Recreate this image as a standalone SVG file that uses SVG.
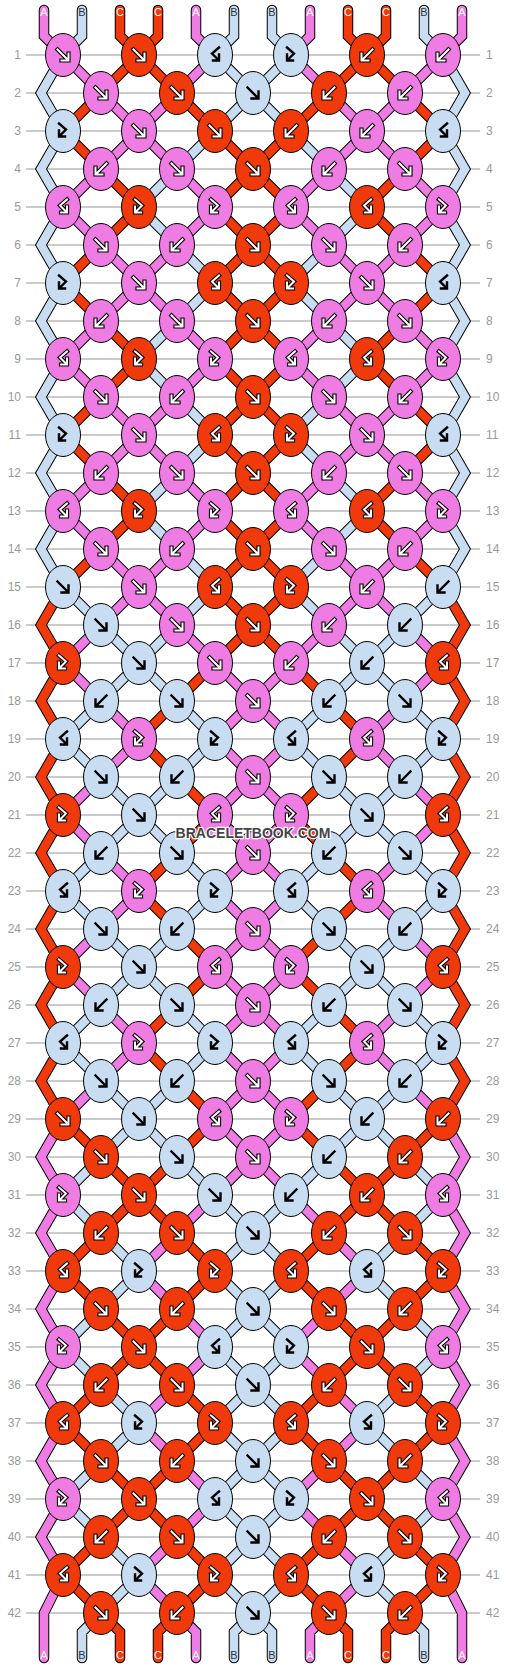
<svg xmlns="http://www.w3.org/2000/svg" xmlns:xlink="http://www.w3.org/1999/xlink" width="506" height="1668" viewBox="0 0 506 1668">
<style>
.lbl{font-family:"Liberation Sans",Arial,sans-serif;font-size:11px;text-anchor:middle}
.num{font-family:"Liberation Sans",Arial,sans-serif;font-size:12px;fill:#999}
.wo{fill:none;stroke:#000;stroke-width:4.2;stroke-linecap:square;stroke-linejoin:miter}
.wi{fill:none;stroke:#fff;stroke-width:2;stroke-linecap:square;stroke-linejoin:miter}
.bk{fill:none;stroke:#000;stroke-width:2.4;stroke-linecap:square;stroke-linejoin:miter}
.wm{font-family:"Liberation Sans",Arial,sans-serif;font-size:14px;font-weight:bold;text-anchor:middle;fill:#444;stroke:#fff;stroke-width:2.5;paint-order:stroke;stroke-linejoin:round}
</style>
<defs>
<ellipse id="e" rx="17.5" ry="21.5" stroke="#000" stroke-width="1"/>
<path id="af" d="M-5.5,-5.5L4.5,4.5M5.5,-1.5V5.5H-1.5"/>
<path id="ab" d="M5.5,-5.5L-4.5,4.5M-5.5,-1.5V5.5H1.5"/>
<path id="aF" d="M-4,-7.5L3,-1.5L-3,4.5M-4,-0.5V5.5H2"/>
<path id="aK" d="M4,-7.5L-3,-1.5L3,4.5M4,-0.5V5.5H-2"/>
<g id="Pf"><use href="#e" fill="#ee7ce2"/><use href="#af" class="wo"/><use href="#af" class="wi"/></g>
<g id="Pb"><use href="#e" fill="#ee7ce2"/><use href="#ab" class="wo"/><use href="#ab" class="wi"/></g>
<g id="PF"><use href="#e" fill="#ee7ce2"/><use href="#aF" class="wo"/><use href="#aF" class="wi"/></g>
<g id="PK"><use href="#e" fill="#ee7ce2"/><use href="#aK" class="wo"/><use href="#aK" class="wi"/></g>
<g id="Rf"><use href="#e" fill="#f03a0b"/><use href="#af" class="wo"/><use href="#af" class="wi"/></g>
<g id="Rb"><use href="#e" fill="#f03a0b"/><use href="#ab" class="wo"/><use href="#ab" class="wi"/></g>
<g id="RF"><use href="#e" fill="#f03a0b"/><use href="#aF" class="wo"/><use href="#aF" class="wi"/></g>
<g id="RK"><use href="#e" fill="#f03a0b"/><use href="#aK" class="wo"/><use href="#aK" class="wi"/></g>
<g id="Bf"><use href="#e" fill="#c9ddf2"/><use href="#af" class="bk"/></g>
<g id="Bb"><use href="#e" fill="#c9ddf2"/><use href="#ab" class="bk"/></g>
<g id="BF"><use href="#e" fill="#c9ddf2"/><use href="#aF" class="bk"/></g>
<g id="BK"><use href="#e" fill="#c9ddf2"/><use href="#aK" class="bk"/></g>
<path id="a1P" d="M139,131l-38,38M139,131l38,38M367,131l-38,38M367,131l38,38M101,169l-38,38M177,169l38,38M329,169l-38,38M405,169l38,38M63,207l38,38M215,207l-38,38M291,207l38,38M443,207l-38,38"/>
<path id="a2P" d="M101,245l38,38M177,245l-38,38M329,245l38,38M405,245l-38,38"/>
<path id="a1R" d="M63,131l38,38M443,131l-38,38M215,131l38,38M291,131l-38,38M101,169l38,38M253,169l-38,38M253,169l38,38M405,169l-38,38M139,207l-38,38M215,207l38,38M291,207l-38,38M367,207l38,38"/>
<path id="a2R" d="M101,245l-38,38M253,245l-38,38M253,245l38,38M405,245l38,38"/>
<path id="a1B" d="M215,131l-38,38M291,131l38,38M177,169l-38,38M329,169l38,38M139,207l38,38M367,207l-38,38M63,131L41,169L63,207M443,131L465,169L443,207"/>
<path id="a2B" d="M177,245l38,38M329,245l-38,38M63,207L41,245L63,283M443,207L465,245L443,283"/>
<g id="gP">
<path d="M44,10V36L63,55M196,10V36L215,55M310,10V36L291,55M462,10V36L443,55M63,55l38,38M215,55l-38,38M291,55l38,38M443,55l-38,38M101,93l38,38M177,93l-38,38M329,93l38,38M405,93l-38,38M139,587l-38,38M139,587l38,38M367,587l-38,38M367,587l38,38M101,625l-38,38M177,625l38,38M329,625l-38,38M405,625l38,38M215,1119l38,38M291,1119l-38,38M63,1119L41,1157L63,1195M443,1119L465,1157L443,1195M253,1157l-38,38M253,1157l38,38M63,1575L44,1613V1658M443,1575L462,1613V1658M177,1613L196,1632V1658M329,1613L310,1632V1658"/>
<use href="#a1P"/><use href="#a2P"/><use href="#a1P" y="152"/><use href="#a2P" y="152"/><use href="#a1P" y="304"/><use href="#a2P" y="304"/>
<use href="#a1R" y="532"/><use href="#a2R" y="532"/><use href="#a1R" y="684"/><use href="#a2R" y="684"/><use href="#a1R" y="836"/><use href="#a2R" y="836"/>
<use href="#a1B" y="1064"/><use href="#a2B" y="1064"/><use href="#a1B" y="1216"/><use href="#a2B" y="1216"/><use href="#a1B" y="1368"/>
</g>
<g id="gR">
<path d="M120,10V36L139,55M158,10V36L139,55M348,10V36L367,55M386,10V36L367,55M139,55l-38,38M139,55l38,38M367,55l-38,38M367,55l38,38M101,93l-38,38M177,93l38,38M329,93l-38,38M405,93l38,38M215,587l38,38M291,587l-38,38M63,587L41,625L63,663M443,587L465,625L443,663M253,625l-38,38M253,625l38,38M63,1119l38,38M215,1119l-38,38M291,1119l38,38M443,1119l-38,38M101,1157l38,38M177,1157l-38,38M329,1157l38,38M405,1157l-38,38M101,1613L120,1632V1658M177,1613L158,1632V1658M329,1613L348,1632V1658M405,1613L386,1632V1658"/>
<use href="#a1R"/><use href="#a2R"/><use href="#a1R" y="152"/><use href="#a2R" y="152"/><use href="#a1R" y="304"/><use href="#a2R" y="304"/>
<use href="#a1B" y="532"/><use href="#a2B" y="532"/><use href="#a1B" y="684"/><use href="#a2B" y="684"/><use href="#a1B" y="836"/><use href="#a2B" y="836"/>
<use href="#a1P" y="1064"/><use href="#a2P" y="1064"/><use href="#a1P" y="1216"/><use href="#a2P" y="1216"/><use href="#a1P" y="1368"/>
</g>
<g id="gB">
<path d="M82,10V36L63,55M234,10V36L215,55M272,10V36L291,55M424,10V36L443,55M215,55l38,38M291,55l-38,38M63,55L41,93L63,131M443,55L465,93L443,131M253,93l-38,38M253,93l38,38M63,587l38,38M215,587l-38,38M291,587l38,38M443,587l-38,38M101,625l38,38M177,625l-38,38M329,625l38,38M405,625l-38,38M139,1119l-38,38M139,1119l38,38M367,1119l-38,38M367,1119l38,38M101,1157l-38,38M177,1157l38,38M329,1157l-38,38M405,1157l38,38M101,1613L82,1632V1658M253,1613L234,1632V1658M253,1613L272,1632V1658M405,1613L424,1632V1658"/>
<use href="#a1B"/><use href="#a2B"/><use href="#a1B" y="152"/><use href="#a2B" y="152"/><use href="#a1B" y="304"/><use href="#a2B" y="304"/>
<use href="#a1P" y="532"/><use href="#a2P" y="532"/><use href="#a1P" y="684"/><use href="#a2P" y="684"/><use href="#a1P" y="836"/><use href="#a2P" y="836"/>
<use href="#a1R" y="1064"/><use href="#a2R" y="1064"/><use href="#a1R" y="1216"/><use href="#a2R" y="1216"/><use href="#a1R" y="1368"/>
</g>
</defs>
<rect width="506" height="1668" fill="#fff"/>
<g id="rowlines" stroke="#bbb" stroke-width="1.5" fill="none">
<path d="M26,55H480M26,93H480M26,131H480M26,169H480M26,207H480M26,245H480M26,283H480M26,321H480M26,359H480M26,397H480M26,435H480M26,473H480M26,511H480M26,549H480M26,587H480M26,625H480M26,663H480M26,701H480M26,739H480M26,777H480M26,815H480M26,853H480M26,891H480M26,929H480M26,967H480M26,1005H480M26,1043H480M26,1081H480M26,1119H480M26,1157H480M26,1195H480M26,1233H480M26,1271H480M26,1309H480M26,1347H480M26,1385H480M26,1423H480M26,1461H480M26,1499H480M26,1537H480M26,1575H480M26,1613H480"/>
</g>
<g id="rownumbers" class="num">
<g text-anchor="end">
<text x="21" y="59">1</text><text x="21" y="97">2</text><text x="21" y="135">3</text><text x="21" y="173">4</text><text x="21" y="211">5</text><text x="21" y="249">6</text><text x="21" y="287">7</text><text x="21" y="325">8</text><text x="21" y="363">9</text><text x="21" y="401">10</text><text x="21" y="439">11</text><text x="21" y="477">12</text><text x="21" y="515">13</text><text x="21" y="553">14</text><text x="21" y="591">15</text><text x="21" y="629">16</text><text x="21" y="667">17</text><text x="21" y="705">18</text><text x="21" y="743">19</text><text x="21" y="781">20</text><text x="21" y="819">21</text><text x="21" y="857">22</text><text x="21" y="895">23</text><text x="21" y="933">24</text><text x="21" y="971">25</text><text x="21" y="1009">26</text><text x="21" y="1047">27</text><text x="21" y="1085">28</text><text x="21" y="1123">29</text><text x="21" y="1161">30</text><text x="21" y="1199">31</text><text x="21" y="1237">32</text><text x="21" y="1275">33</text><text x="21" y="1313">34</text><text x="21" y="1351">35</text><text x="21" y="1389">36</text><text x="21" y="1427">37</text><text x="21" y="1465">38</text><text x="21" y="1503">39</text><text x="21" y="1541">40</text><text x="21" y="1579">41</text><text x="21" y="1617">42</text>
</g>
<g text-anchor="start">
<text x="486" y="59">1</text><text x="486" y="97">2</text><text x="486" y="135">3</text><text x="486" y="173">4</text><text x="486" y="211">5</text><text x="486" y="249">6</text><text x="486" y="287">7</text><text x="486" y="325">8</text><text x="486" y="363">9</text><text x="486" y="401">10</text><text x="486" y="439">11</text><text x="486" y="477">12</text><text x="486" y="515">13</text><text x="486" y="553">14</text><text x="486" y="591">15</text><text x="486" y="629">16</text><text x="486" y="667">17</text><text x="486" y="705">18</text><text x="486" y="743">19</text><text x="486" y="781">20</text><text x="486" y="819">21</text><text x="486" y="857">22</text><text x="486" y="895">23</text><text x="486" y="933">24</text><text x="486" y="971">25</text><text x="486" y="1009">26</text><text x="486" y="1047">27</text><text x="486" y="1085">28</text><text x="486" y="1123">29</text><text x="486" y="1161">30</text><text x="486" y="1199">31</text><text x="486" y="1237">32</text><text x="486" y="1275">33</text><text x="486" y="1313">34</text><text x="486" y="1351">35</text><text x="486" y="1389">36</text><text x="486" y="1427">37</text><text x="486" y="1465">38</text><text x="486" y="1503">39</text><text x="486" y="1541">40</text><text x="486" y="1579">41</text><text x="486" y="1617">42</text>
</g>
</g>
<g id="connectors" fill="none" stroke-linecap="round" stroke-linejoin="miter">
<use href="#gP" stroke="#000" stroke-width="10.5"/>
<use href="#gR" stroke="#000" stroke-width="10.5"/>
<use href="#gB" stroke="#000" stroke-width="10.5"/>
<use href="#gP" stroke="#ee7ce2" stroke-width="8.5"/>
<use href="#gR" stroke="#f03a0b" stroke-width="8.5"/>
<use href="#gB" stroke="#c9ddf2" stroke-width="8.5"/>
</g>
<g id="stringlabels" class="lbl">
<text x="44" y="16" fill="#fff">A</text><text x="82" y="16" fill="#333">B</text><text x="120" y="16" fill="#fff">C</text><text x="158" y="16" fill="#fff">C</text><text x="196" y="16" fill="#fff">A</text><text x="234" y="16" fill="#333">B</text><text x="272" y="16" fill="#333">B</text><text x="310" y="16" fill="#fff">A</text><text x="348" y="16" fill="#fff">C</text><text x="386" y="16" fill="#fff">C</text><text x="424" y="16" fill="#333">B</text><text x="462" y="16" fill="#fff">A</text>
<text x="44" y="1659" fill="#fff">A</text><text x="82" y="1659" fill="#333">B</text><text x="120" y="1659" fill="#fff">C</text><text x="158" y="1659" fill="#fff">C</text><text x="196" y="1659" fill="#fff">A</text><text x="234" y="1659" fill="#333">B</text><text x="272" y="1659" fill="#333">B</text><text x="310" y="1659" fill="#fff">A</text><text x="348" y="1659" fill="#fff">C</text><text x="386" y="1659" fill="#fff">C</text><text x="424" y="1659" fill="#333">B</text><text x="462" y="1659" fill="#fff">A</text>
</g>
<g id="knots">
<g id="n1-1"><use href="#Pf" x="63" y="55"/></g><g id="n1-2"><use href="#Rf" x="139" y="55"/></g><g id="n1-3"><use href="#BK" x="215" y="55"/></g><g id="n1-4"><use href="#BF" x="291" y="55"/></g><g id="n1-5"><use href="#Rb" x="367" y="55"/></g><g id="n1-6"><use href="#Pb" x="443" y="55"/></g>
<g id="n2-1"><use href="#Pf" x="101" y="93"/></g><g id="n2-2"><use href="#Rf" x="177" y="93"/></g><g id="n2-3"><use href="#Bf" x="253" y="93"/></g><g id="n2-4"><use href="#Rb" x="329" y="93"/></g><g id="n2-5"><use href="#Pb" x="405" y="93"/></g>
<g id="n3-1"><use href="#BF" x="63" y="131"/></g><g id="n3-2"><use href="#Pf" x="139" y="131"/></g><g id="n3-3"><use href="#Rf" x="215" y="131"/></g><g id="n3-4"><use href="#Rb" x="291" y="131"/></g><g id="n3-5"><use href="#Pb" x="367" y="131"/></g><g id="n3-6"><use href="#BK" x="443" y="131"/></g>
<g id="n4-1"><use href="#Pb" x="101" y="169"/></g><g id="n4-2"><use href="#Pf" x="177" y="169"/></g><g id="n4-3"><use href="#Rf" x="253" y="169"/></g><g id="n4-4"><use href="#Pb" x="329" y="169"/></g><g id="n4-5"><use href="#Pf" x="405" y="169"/></g>
<g id="n5-1"><use href="#PK" x="63" y="207"/></g><g id="n5-2"><use href="#RF" x="139" y="207"/></g><g id="n5-3"><use href="#PF" x="215" y="207"/></g><g id="n5-4"><use href="#PK" x="291" y="207"/></g><g id="n5-5"><use href="#RK" x="367" y="207"/></g><g id="n5-6"><use href="#PF" x="443" y="207"/></g>
<g id="n6-1"><use href="#Pf" x="101" y="245"/></g><g id="n6-2"><use href="#Pb" x="177" y="245"/></g><g id="n6-3"><use href="#Rf" x="253" y="245"/></g><g id="n6-4"><use href="#Pf" x="329" y="245"/></g><g id="n6-5"><use href="#Pb" x="405" y="245"/></g>
<g id="n7-1"><use href="#BF" x="63" y="283"/></g><g id="n7-2"><use href="#Pf" x="139" y="283"/></g><g id="n7-3"><use href="#RK" x="215" y="283"/></g><g id="n7-4"><use href="#RF" x="291" y="283"/></g><g id="n7-5"><use href="#Pf" x="367" y="283"/></g><g id="n7-6"><use href="#BK" x="443" y="283"/></g>
<g id="n8-1"><use href="#Pb" x="101" y="321"/></g><g id="n8-2"><use href="#Pf" x="177" y="321"/></g><g id="n8-3"><use href="#Rf" x="253" y="321"/></g><g id="n8-4"><use href="#Pb" x="329" y="321"/></g><g id="n8-5"><use href="#Pf" x="405" y="321"/></g>
<g id="n9-1"><use href="#PK" x="63" y="359"/></g><g id="n9-2"><use href="#RF" x="139" y="359"/></g><g id="n9-3"><use href="#PF" x="215" y="359"/></g><g id="n9-4"><use href="#PK" x="291" y="359"/></g><g id="n9-5"><use href="#RK" x="367" y="359"/></g><g id="n9-6"><use href="#PF" x="443" y="359"/></g>
<g id="n10-1"><use href="#Pf" x="101" y="397"/></g><g id="n10-2"><use href="#Pb" x="177" y="397"/></g><g id="n10-3"><use href="#Rf" x="253" y="397"/></g><g id="n10-4"><use href="#Pf" x="329" y="397"/></g><g id="n10-5"><use href="#Pb" x="405" y="397"/></g>
<g id="n11-1"><use href="#BF" x="63" y="435"/></g><g id="n11-2"><use href="#Pf" x="139" y="435"/></g><g id="n11-3"><use href="#RK" x="215" y="435"/></g><g id="n11-4"><use href="#RF" x="291" y="435"/></g><g id="n11-5"><use href="#Pf" x="367" y="435"/></g><g id="n11-6"><use href="#BK" x="443" y="435"/></g>
<g id="n12-1"><use href="#Pb" x="101" y="473"/></g><g id="n12-2"><use href="#Pf" x="177" y="473"/></g><g id="n12-3"><use href="#Rf" x="253" y="473"/></g><g id="n12-4"><use href="#Pb" x="329" y="473"/></g><g id="n12-5"><use href="#Pf" x="405" y="473"/></g>
<g id="n13-1"><use href="#PK" x="63" y="511"/></g><g id="n13-2"><use href="#RF" x="139" y="511"/></g><g id="n13-3"><use href="#PF" x="215" y="511"/></g><g id="n13-4"><use href="#PK" x="291" y="511"/></g><g id="n13-5"><use href="#RK" x="367" y="511"/></g><g id="n13-6"><use href="#PF" x="443" y="511"/></g>
<g id="n14-1"><use href="#Pf" x="101" y="549"/></g><g id="n14-2"><use href="#Pb" x="177" y="549"/></g><g id="n14-3"><use href="#Rf" x="253" y="549"/></g><g id="n14-4"><use href="#Pf" x="329" y="549"/></g><g id="n14-5"><use href="#Pb" x="405" y="549"/></g>
<g id="n15-1"><use href="#Bf" x="63" y="587"/></g><g id="n15-2"><use href="#Pf" x="139" y="587"/></g><g id="n15-3"><use href="#RK" x="215" y="587"/></g><g id="n15-4"><use href="#RF" x="291" y="587"/></g><g id="n15-5"><use href="#Pb" x="367" y="587"/></g><g id="n15-6"><use href="#Bb" x="443" y="587"/></g>
<g id="n16-1"><use href="#Bf" x="101" y="625"/></g><g id="n16-2"><use href="#Pf" x="177" y="625"/></g><g id="n16-3"><use href="#Rf" x="253" y="625"/></g><g id="n16-4"><use href="#Pb" x="329" y="625"/></g><g id="n16-5"><use href="#Bb" x="405" y="625"/></g>
<g id="n17-1"><use href="#RF" x="63" y="663"/></g><g id="n17-2"><use href="#Bf" x="139" y="663"/></g><g id="n17-3"><use href="#Pf" x="215" y="663"/></g><g id="n17-4"><use href="#Pb" x="291" y="663"/></g><g id="n17-5"><use href="#Bb" x="367" y="663"/></g><g id="n17-6"><use href="#RK" x="443" y="663"/></g>
<g id="n18-1"><use href="#Bb" x="101" y="701"/></g><g id="n18-2"><use href="#Bf" x="177" y="701"/></g><g id="n18-3"><use href="#Pf" x="253" y="701"/></g><g id="n18-4"><use href="#Bb" x="329" y="701"/></g><g id="n18-5"><use href="#Bf" x="405" y="701"/></g>
<g id="n19-1"><use href="#BK" x="63" y="739"/></g><g id="n19-2"><use href="#PF" x="139" y="739"/></g><g id="n19-3"><use href="#BF" x="215" y="739"/></g><g id="n19-4"><use href="#BK" x="291" y="739"/></g><g id="n19-5"><use href="#PK" x="367" y="739"/></g><g id="n19-6"><use href="#BF" x="443" y="739"/></g>
<g id="n20-1"><use href="#Bf" x="101" y="777"/></g><g id="n20-2"><use href="#Bb" x="177" y="777"/></g><g id="n20-3"><use href="#Pf" x="253" y="777"/></g><g id="n20-4"><use href="#Bf" x="329" y="777"/></g><g id="n20-5"><use href="#Bb" x="405" y="777"/></g>
<g id="n21-1"><use href="#RF" x="63" y="815"/></g><g id="n21-2"><use href="#Bf" x="139" y="815"/></g><g id="n21-3"><use href="#PK" x="215" y="815"/></g><g id="n21-4"><use href="#PF" x="291" y="815"/></g><g id="n21-5"><use href="#Bf" x="367" y="815"/></g><g id="n21-6"><use href="#RK" x="443" y="815"/></g>
<g id="n22-1"><use href="#Bb" x="101" y="853"/></g><g id="n22-2"><use href="#Bf" x="177" y="853"/></g><g id="n22-3"><use href="#Pf" x="253" y="853"/></g><g id="n22-4"><use href="#Bb" x="329" y="853"/></g><g id="n22-5"><use href="#Bf" x="405" y="853"/></g>
<g id="n23-1"><use href="#BK" x="63" y="891"/></g><g id="n23-2"><use href="#PF" x="139" y="891"/></g><g id="n23-3"><use href="#BF" x="215" y="891"/></g><g id="n23-4"><use href="#BK" x="291" y="891"/></g><g id="n23-5"><use href="#PK" x="367" y="891"/></g><g id="n23-6"><use href="#BF" x="443" y="891"/></g>
<g id="n24-1"><use href="#Bf" x="101" y="929"/></g><g id="n24-2"><use href="#Bb" x="177" y="929"/></g><g id="n24-3"><use href="#Pf" x="253" y="929"/></g><g id="n24-4"><use href="#Bf" x="329" y="929"/></g><g id="n24-5"><use href="#Bb" x="405" y="929"/></g>
<g id="n25-1"><use href="#RF" x="63" y="967"/></g><g id="n25-2"><use href="#Bf" x="139" y="967"/></g><g id="n25-3"><use href="#PK" x="215" y="967"/></g><g id="n25-4"><use href="#PF" x="291" y="967"/></g><g id="n25-5"><use href="#Bf" x="367" y="967"/></g><g id="n25-6"><use href="#RK" x="443" y="967"/></g>
<g id="n26-1"><use href="#Bb" x="101" y="1005"/></g><g id="n26-2"><use href="#Bf" x="177" y="1005"/></g><g id="n26-3"><use href="#Pf" x="253" y="1005"/></g><g id="n26-4"><use href="#Bb" x="329" y="1005"/></g><g id="n26-5"><use href="#Bf" x="405" y="1005"/></g>
<g id="n27-1"><use href="#BK" x="63" y="1043"/></g><g id="n27-2"><use href="#PF" x="139" y="1043"/></g><g id="n27-3"><use href="#BF" x="215" y="1043"/></g><g id="n27-4"><use href="#BK" x="291" y="1043"/></g><g id="n27-5"><use href="#PK" x="367" y="1043"/></g><g id="n27-6"><use href="#BF" x="443" y="1043"/></g>
<g id="n28-1"><use href="#Bf" x="101" y="1081"/></g><g id="n28-2"><use href="#Bb" x="177" y="1081"/></g><g id="n28-3"><use href="#Pf" x="253" y="1081"/></g><g id="n28-4"><use href="#Bf" x="329" y="1081"/></g><g id="n28-5"><use href="#Bb" x="405" y="1081"/></g>
<g id="n29-1"><use href="#Rf" x="63" y="1119"/></g><g id="n29-2"><use href="#Bf" x="139" y="1119"/></g><g id="n29-3"><use href="#PK" x="215" y="1119"/></g><g id="n29-4"><use href="#PF" x="291" y="1119"/></g><g id="n29-5"><use href="#Bb" x="367" y="1119"/></g><g id="n29-6"><use href="#Rb" x="443" y="1119"/></g>
<g id="n30-1"><use href="#Rf" x="101" y="1157"/></g><g id="n30-2"><use href="#Bf" x="177" y="1157"/></g><g id="n30-3"><use href="#Pf" x="253" y="1157"/></g><g id="n30-4"><use href="#Bb" x="329" y="1157"/></g><g id="n30-5"><use href="#Rb" x="405" y="1157"/></g>
<g id="n31-1"><use href="#PF" x="63" y="1195"/></g><g id="n31-2"><use href="#Rf" x="139" y="1195"/></g><g id="n31-3"><use href="#Bf" x="215" y="1195"/></g><g id="n31-4"><use href="#Bb" x="291" y="1195"/></g><g id="n31-5"><use href="#Rb" x="367" y="1195"/></g><g id="n31-6"><use href="#PK" x="443" y="1195"/></g>
<g id="n32-1"><use href="#Rb" x="101" y="1233"/></g><g id="n32-2"><use href="#Rf" x="177" y="1233"/></g><g id="n32-3"><use href="#Bf" x="253" y="1233"/></g><g id="n32-4"><use href="#Rb" x="329" y="1233"/></g><g id="n32-5"><use href="#Rf" x="405" y="1233"/></g>
<g id="n33-1"><use href="#RK" x="63" y="1271"/></g><g id="n33-2"><use href="#BF" x="139" y="1271"/></g><g id="n33-3"><use href="#RF" x="215" y="1271"/></g><g id="n33-4"><use href="#RK" x="291" y="1271"/></g><g id="n33-5"><use href="#BK" x="367" y="1271"/></g><g id="n33-6"><use href="#RF" x="443" y="1271"/></g>
<g id="n34-1"><use href="#Rf" x="101" y="1309"/></g><g id="n34-2"><use href="#Rb" x="177" y="1309"/></g><g id="n34-3"><use href="#Bf" x="253" y="1309"/></g><g id="n34-4"><use href="#Rf" x="329" y="1309"/></g><g id="n34-5"><use href="#Rb" x="405" y="1309"/></g>
<g id="n35-1"><use href="#PF" x="63" y="1347"/></g><g id="n35-2"><use href="#Rf" x="139" y="1347"/></g><g id="n35-3"><use href="#BK" x="215" y="1347"/></g><g id="n35-4"><use href="#BF" x="291" y="1347"/></g><g id="n35-5"><use href="#Rf" x="367" y="1347"/></g><g id="n35-6"><use href="#PK" x="443" y="1347"/></g>
<g id="n36-1"><use href="#Rb" x="101" y="1385"/></g><g id="n36-2"><use href="#Rf" x="177" y="1385"/></g><g id="n36-3"><use href="#Bf" x="253" y="1385"/></g><g id="n36-4"><use href="#Rb" x="329" y="1385"/></g><g id="n36-5"><use href="#Rf" x="405" y="1385"/></g>
<g id="n37-1"><use href="#RK" x="63" y="1423"/></g><g id="n37-2"><use href="#BF" x="139" y="1423"/></g><g id="n37-3"><use href="#RF" x="215" y="1423"/></g><g id="n37-4"><use href="#RK" x="291" y="1423"/></g><g id="n37-5"><use href="#BK" x="367" y="1423"/></g><g id="n37-6"><use href="#RF" x="443" y="1423"/></g>
<g id="n38-1"><use href="#Rf" x="101" y="1461"/></g><g id="n38-2"><use href="#Rb" x="177" y="1461"/></g><g id="n38-3"><use href="#Bf" x="253" y="1461"/></g><g id="n38-4"><use href="#Rf" x="329" y="1461"/></g><g id="n38-5"><use href="#Rb" x="405" y="1461"/></g>
<g id="n39-1"><use href="#PF" x="63" y="1499"/></g><g id="n39-2"><use href="#Rf" x="139" y="1499"/></g><g id="n39-3"><use href="#BK" x="215" y="1499"/></g><g id="n39-4"><use href="#BF" x="291" y="1499"/></g><g id="n39-5"><use href="#Rf" x="367" y="1499"/></g><g id="n39-6"><use href="#PK" x="443" y="1499"/></g>
<g id="n40-1"><use href="#Rb" x="101" y="1537"/></g><g id="n40-2"><use href="#Rf" x="177" y="1537"/></g><g id="n40-3"><use href="#Bf" x="253" y="1537"/></g><g id="n40-4"><use href="#Rb" x="329" y="1537"/></g><g id="n40-5"><use href="#Rf" x="405" y="1537"/></g>
<g id="n41-1"><use href="#RK" x="63" y="1575"/></g><g id="n41-2"><use href="#BF" x="139" y="1575"/></g><g id="n41-3"><use href="#RF" x="215" y="1575"/></g><g id="n41-4"><use href="#RK" x="291" y="1575"/></g><g id="n41-5"><use href="#BK" x="367" y="1575"/></g><g id="n41-6"><use href="#RF" x="443" y="1575"/></g>
<g id="n42-1"><use href="#Rf" x="101" y="1613"/></g><g id="n42-2"><use href="#Rb" x="177" y="1613"/></g><g id="n42-3"><use href="#Bf" x="253" y="1613"/></g><g id="n42-4"><use href="#Rf" x="329" y="1613"/></g><g id="n42-5"><use href="#Rb" x="405" y="1613"/></g>
</g>
<text id="watermark" class="wm" x="253" y="838">BRACELETBOOK.COM</text>
</svg>
